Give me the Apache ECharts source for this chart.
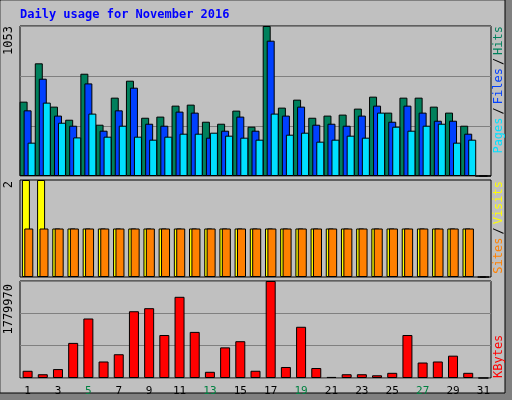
<!DOCTYPE html>
<html><head><meta charset="utf-8">
<script src="https://cdn.jsdelivr.net/npm/echarts@6/dist/echarts.min.js"></script>
<style>html,body{margin:0;padding:0;background:#c0c0c0}#c{width:512px;height:400px}</style>
</head><body><div id="c"></div>
<script>
const days = Array.from({length:31},(_,i)=>String(i+1));
const weekend = ['5','6','12','13','19','20','26','27'];
const hits  = [522,791,487,395,718,360,550,669,409,417,494,501,381,367,459,346,1053,480,536,409,424,431,473,557,445,550,550,487,445,353,0];
const files = [461,683,424,353,650,318,461,620,367,353,452,445,269,318,417,318,950,424,487,360,367,353,424,494,381,494,445,388,388,297,0];
const pages = [234,515,374,271,438,276,353,276,255,276,297,297,304,283,269,255,438,290,304,241,255,283,269,445,346,318,353,367,234,255,0];
const visits= [2,2,1,1,1,1,1,1,1,1,1,1,1,1,1,1,1,1,1,1,1,1,1,1,1,1,1,1,1,1,0];
const sites = [1,1,1,1,1,1,1,1,1,1,1,1,1,1,1,1,1,1,1,1,1,1,1,1,1,1,1,1,1,1,0];
const kbytes= [132552,69000,164000,644000,1092000,303000,436000,1225000,1281000,789000,1490000,846000,114000,562000,675000,133000,1779970,202000,940000,183000,20000,69000,69000,50000,95000,789000,284000,303000,410000,95000,0];
const maxHits=1053, maxVisits=2, maxKB=1779970;

const mono='DejaVu Sans Mono';
const chart=echarts.init(document.getElementById('c'));
const grids=[
  {left:20,right:21,top:26,height:150},
  {left:20,right:21,top:180,height:97},
  {left:20,right:21,top:281,height:97}
];
const bs={borderColor:'#000',borderWidth:1};
function xa(i,show){return {type:'category',gridIndex:i,data:days,axisLine:{show:false},axisTick:{show:false},
  axisLabel:{show:show,margin:8,fontFamily:mono,fontSize:11,color:(v)=>weekend.includes(v)?'#008040':'#000'}};}
function ya(i,max){return {type:'value',gridIndex:i,min:0,max:max,interval:max/3,axisLabel:{show:false},axisLine:{show:false},axisTick:{show:false},
  splitLine:{show:true,lineStyle:{color:'#808080',width:1}}};}
chart.setOption({
  animation:false,
  backgroundColor:'#c0c0c0',
  grid:grids.map(g=>Object.assign({show:true,backgroundColor:'#c0c0c0',borderColor:'#000',borderWidth:1},g)),
  xAxis:[xa(0,false),xa(1,false),xa(2,true)],
  yAxis:[ya(0,maxHits),Object.assign(ya(1,maxVisits),{splitLine:{show:false}}),ya(2,maxKB)],
  series:[
    {type:'bar',xAxisIndex:0,yAxisIndex:0,data:hits,barWidth:8,barGap:'-50%',itemStyle:Object.assign({color:'#00805c'},bs)},
    {type:'bar',xAxisIndex:0,yAxisIndex:0,data:files,barWidth:8,barGap:'-50%',itemStyle:Object.assign({color:'#0040ff'},bs)},
    {type:'bar',xAxisIndex:0,yAxisIndex:0,data:pages,barWidth:8,barGap:'-50%',itemStyle:Object.assign({color:'#00e0ff'},bs)},
    {type:'bar',xAxisIndex:1,yAxisIndex:1,data:visits,barWidth:8,barGap:'-70%',itemStyle:Object.assign({color:'#ffff00'},bs)},
    {type:'bar',xAxisIndex:1,yAxisIndex:1,data:sites,barWidth:9,barGap:'-70%',itemStyle:Object.assign({color:'#ff8000'},bs)},
    {type:'bar',xAxisIndex:2,yAxisIndex:2,data:kbytes,barWidth:10,itemStyle:Object.assign({color:'#ff0000'},bs)}
  ],
  graphic:[
    {type:'rect',shape:{x:0,y:0,width:512,height:400},style:{fill:'none',stroke:'#ffffff',lineWidth:2},silent:true},
    {type:'rect',shape:{x:505,y:0,width:7,height:400},style:{fill:'#808080'},silent:true},
    {type:'rect',shape:{x:0,y:393,width:512,height:7},style:{fill:'#808080'},silent:true},
    {type:'rect',shape:{x:0,y:0,width:505,height:393},style:{fill:'none',stroke:'#000',lineWidth:1},silent:true},
    {type:'text',x:20,y:9,style:{text:'Daily usage for November 2016',fill:'#0000ff',font:'bold 12px '+mono}},
    {type:'text',x:9,y:26,rotation:Math.PI/2,style:{text:'1053',fill:'#000',font:'12px '+mono,align:'right',verticalAlign:'middle'}},
    {type:'text',x:9,y:181,rotation:Math.PI/2,style:{text:'2',fill:'#000',font:'12px '+mono,align:'right',verticalAlign:'middle'}},
    {type:'text',x:9,y:284,rotation:Math.PI/2,style:{text:'1779970',fill:'#000',font:'12px '+mono,align:'right',verticalAlign:'middle'}},
    {type:'text',x:499,y:26,rotation:Math.PI/2,style:{text:'{p|Pages}{s|/}{f|Files}{s|/}{h|Hits}',align:'right',verticalAlign:'middle',font:'12px '+mono,
      rich:{p:{fill:'#00e0ff',font:'12px '+mono},s:{fill:'#000',font:'12px '+mono,padding:[0,3]},f:{fill:'#0040ff',font:'12px '+mono},h:{fill:'#00805c',font:'12px '+mono}}}},
    {type:'text',x:499,y:181,rotation:Math.PI/2,style:{text:'{o|Sites}{s|/}{y|Visits}',align:'right',verticalAlign:'middle',font:'12px '+mono,
      rich:{o:{fill:'#ff8000',font:'12px '+mono},s:{fill:'#000',font:'12px '+mono,padding:[0,3]},y:{fill:'#ffff00',font:'12px '+mono}}}},
    {type:'text',x:499,y:378,rotation:Math.PI/2,style:{text:'KBytes',fill:'#ff0000',align:'left',verticalAlign:'middle',font:'12px '+mono}}
  ]
});
</script></body></html>
